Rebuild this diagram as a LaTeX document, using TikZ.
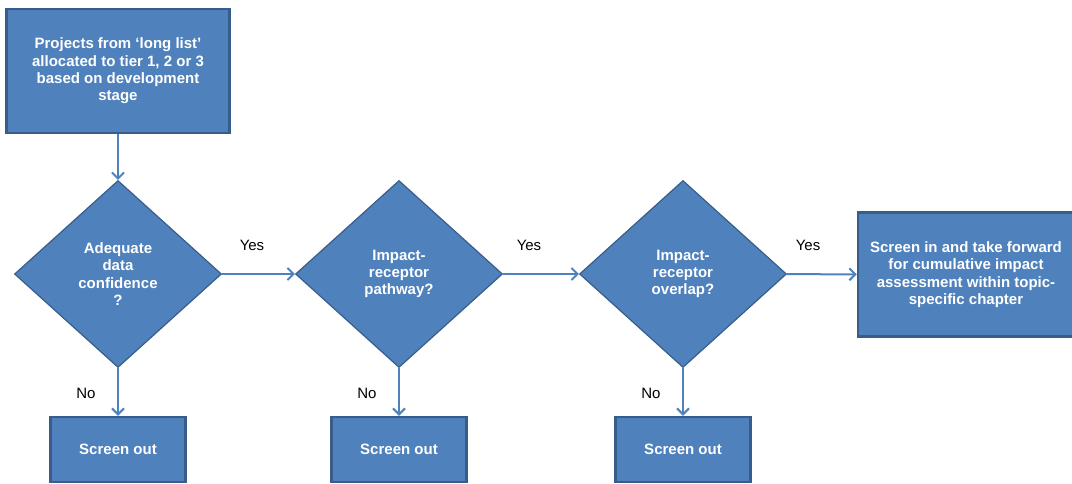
\documentclass[tikz,border=0pt]{standalone}
\usepackage{fontspec}
\setmainfont{Liberation Sans}
\usetikzlibrary{shapes.geometric,arrows.meta}
\definecolor{fillblue}{HTML}{4F81BD}
\definecolor{edgeblue}{HTML}{385D8A}
\tikzset{
	txt/.style={font=\fontsize{15}{17.3}\selectfont},
	box/.style={draw=edgeblue,line width=2.5pt,fill=fillblue,text=white,font=\fontsize{15}{17.3}\selectfont\bfseries,align=center,inner sep=0pt},
	choice/.style={box,diamond,line width=1.2pt,minimum width=207pt,minimum height=187pt},
	link/.style={draw=fillblue,line width=2pt,-{Straight Barb[length=6pt,width=12pt]}}
}
\begin{document}
\begin{tikzpicture}[x=1pt,y=-1pt]
\useasboundingbox (0,0) rectangle (1072,483);
\node[box,minimum width=223pt,minimum height=124pt] (list) at (118,71) {Projects from ‘long list’\\allocated to tier 1, 2 or 3\\based on development\\stage};
\foreach \n/\x/\t in {1/118/{Adequate\\data\\confidence\\?}, 2/399/{Impact-\\receptor\\pathway?}, 3/683/{Impact-\\receptor\\overlap?}} {
	\node[choice] (q\n) at (\x,274) {\t};
	\node[box,minimum width=135pt,minimum height=65pt] (out\n) at (\x,449.5) {Screen out};
	\node[txt] (no\n) at (\x-32,393) {No};
	\draw[link] (q\n) -- (out\n);
}
\node[box,minimum width=216pt,minimum height=124pt] (fwd) at (966,274.5) {Screen in and take forward\\for cumulative impact\\assessment within topic-\\specific chapter};
\node[txt] (yes1) at (252,245) {Yes};
\node[txt] (yes2) at (529,245) {Yes};
\node[txt] (yes3) at (808,245) {Yes};
\draw[link] (list) -- (q1);
\draw[link] (q1) -- (q2);
\draw[link] (q2) -- (q3);
\draw[link] (q3) -- (fwd);
\end{tikzpicture}
\end{document}
